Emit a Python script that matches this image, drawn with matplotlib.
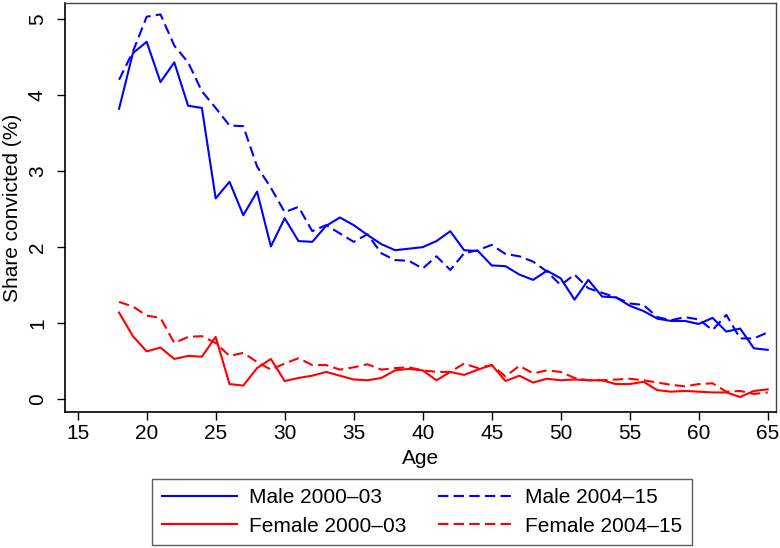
import matplotlib
matplotlib.use("Agg")
import matplotlib.pyplot as plt

plt.rcParams["font.family"] = ["Liberation Sans", "DejaVu Sans"]

ages = list(range(18, 66))

male_2000_03 = [
    3.82, 4.55, 4.70, 4.17, 4.43, 3.86, 3.83, 2.64, 2.86, 2.42,
    2.73, 2.01, 2.38, 2.08, 2.07, 2.28, 2.39, 2.29, 2.16, 2.04,
    1.96, 1.98, 2.00, 2.08, 2.21, 1.96, 1.95, 1.76, 1.75, 1.64,
    1.57, 1.69, 1.59, 1.31, 1.57, 1.35, 1.34, 1.23, 1.16, 1.06,
    1.03, 1.03, 0.99, 1.07, 0.89, 0.93, 0.67, 0.65,
]
male_2004_15 = [
    4.20, 4.57, 5.03, 5.06, 4.65, 4.43, 4.05, 3.83, 3.60, 3.59,
    3.06, 2.78, 2.46, 2.53, 2.21, 2.29, 2.18, 2.07, 2.17, 1.92,
    1.83, 1.82, 1.72, 1.88, 1.70, 1.92, 1.96, 2.03, 1.91, 1.88,
    1.81, 1.68, 1.50, 1.64, 1.46, 1.40, 1.34, 1.26, 1.24, 1.08,
    1.04, 1.08, 1.05, 0.91, 1.11, 0.80, 0.80, 0.88,
]
female_2000_03 = [
    1.14, 0.83, 0.63, 0.68, 0.53, 0.57, 0.56, 0.82, 0.20, 0.18,
    0.41, 0.53, 0.24, 0.28, 0.31, 0.36, 0.31, 0.26, 0.25, 0.28,
    0.38, 0.40, 0.38, 0.25, 0.36, 0.32, 0.39, 0.45, 0.24, 0.31,
    0.22, 0.27, 0.25, 0.26, 0.25, 0.25, 0.20, 0.20, 0.23, 0.12,
    0.10, 0.11, 0.10, 0.09, 0.09, 0.03, 0.11, 0.13,
]
female_2004_15 = [
    1.28, 1.22, 1.10, 1.07, 0.74, 0.82, 0.83, 0.74, 0.57, 0.61,
    0.49, 0.39, 0.47, 0.54, 0.45, 0.45, 0.39, 0.42, 0.46, 0.39,
    0.41, 0.42, 0.38, 0.36, 0.36, 0.47, 0.41, 0.45, 0.30, 0.44,
    0.34, 0.38, 0.36, 0.28, 0.25, 0.25, 0.26, 0.27, 0.25, 0.22,
    0.19, 0.17, 0.20, 0.21, 0.10, 0.11, 0.07, 0.09,
]

FS = 15
LW = 1.5
DASH = (5, 2.5)

fig = plt.figure(figsize=(7.8, 5.48), dpi=100)
ax = fig.add_axes([0.0833, 0.2482, 0.9116, 0.7463])

ax.plot(ages, male_2000_03, color="#0000ff", lw=LW, label="Male 2000\u201303")
ax.plot(ages, female_2000_03, color="#ff0000", lw=LW, label="Female 2000\u201303")
ax.plot(ages, male_2004_15, color="#0000ff", lw=LW, dashes=DASH,
        label="Male 2004\u201315")
ax.plot(ages, female_2004_15, color="#ff0000", lw=LW, dashes=DASH,
        label="Female 2004\u201315")

ax.set_xlim(14.08, 65.6)
ax.set_ylim(-0.167, 5.21)
ax.set_xticks(range(15, 70, 5))
ax.set_yticks(range(0, 6))

ax.tick_params(axis="both", direction="out", length=6, width=1,
               labelsize=FS, color="black")
ax.tick_params(axis="x", pad=3)
ax.tick_params(axis="y", pad=7, labelrotation=90)
for lbl in ax.get_yticklabels():
    lbl.set_verticalalignment("center")

for side in ["left", "bottom"]:
    ax.spines[side].set_linewidth(1.2)
    ax.spines[side].set_color("black")
for side in ["top", "right"]:
    ax.spines[side].set_linewidth(1.0)
    ax.spines[side].set_color("#444444")

ax.set_xlabel("Age", fontsize=FS, labelpad=4)
ax.set_ylabel("Share convicted (%)", fontsize=FS, labelpad=4)

leg = fig.legend(
    handles=ax.get_lines(),
    loc="upper center",
    bbox_to_anchor=(0.541, 0.126),
    ncol=2,
    fontsize=FS,
    frameon=True,
    fancybox=False,
    handlelength=3.6,
    handletextpad=0.6,
    columnspacing=1.5,
    labelspacing=0.45,
    borderpad=0.45,
    borderaxespad=0,
)
leg.get_frame().set_edgecolor("#333333")
leg.get_frame().set_linewidth(1.0)

fig.savefig("out.png", dpi=100)
